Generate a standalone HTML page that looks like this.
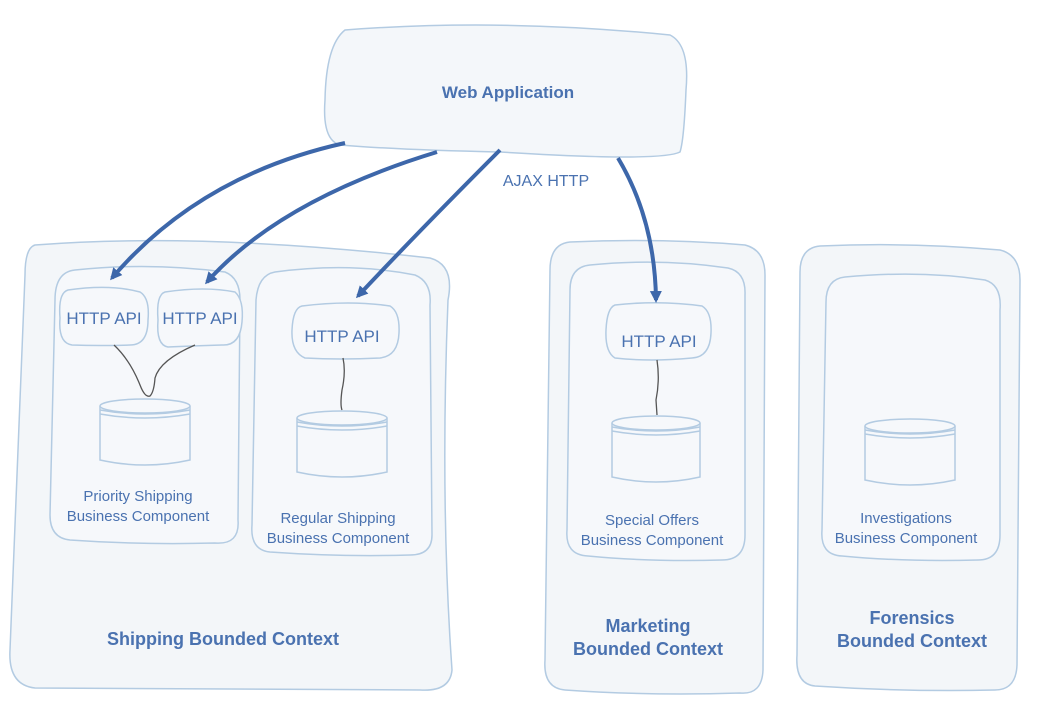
<!DOCTYPE html>
<html><head><meta charset="utf-8"><style>
body{margin:0;background:#fff;}
svg{display:block;font-family:"Liberation Sans",sans-serif;}
text{fill:#4a72b0;}
</style></head><body>
<svg width="1037" height="710" viewBox="0 0 1037 710">
<defs>
<marker id="ah" markerWidth="14" markerHeight="14" refX="9" refY="7" orient="auto" markerUnits="userSpaceOnUse">
<path d="M0,1 L12,7 L0,13 Z" fill="#3d67aa"/></marker>
</defs>
<g stroke="#b3cbe2" stroke-width="1.5">
<path d="M35,245 Q200,232 430,258 Q455,265 448,300 Q440,500 452,670 Q450,692 420,690 Q200,688 35,688 Q8,685 10,650 Q18,450 25,275 Q25,248 35,245 Z" fill="#f3f6f9"/>
<path d="M75,270 Q150,262 225,272 Q240,278 240,300 L238,520 Q240,545 215,543 Q140,545 70,540 Q50,538 50,515 L55,300 Q55,272 75,270 Z" fill="#f6f8fb"/>
<path d="M275,272 Q350,262 415,275 Q432,282 430,305 L432,535 Q432,555 410,555 Q340,557 270,552 Q250,550 252,525 L256,300 Q258,275 275,272 Z" fill="#f6f8fb"/>
<path d="M570,242 Q660,238 745,245 Q765,250 765,275 L763,670 Q762,695 740,693 Q650,696 565,690 Q543,688 545,660 L550,270 Q550,244 570,242 Z" fill="#f3f6f9"/>
<path d="M590,265 Q660,258 728,268 Q746,272 745,295 L745,535 Q745,560 722,560 Q650,562 588,556 Q565,555 567,530 L570,290 Q570,267 590,265 Z" fill="#f6f8fb"/>
<path d="M820,246 Q910,242 1000,250 Q1020,255 1020,280 L1017,665 Q1016,690 995,690 Q905,692 815,686 Q795,684 797,655 L800,272 Q800,248 820,246 Z" fill="#f3f6f9"/>
<path d="M845,277 Q920,270 985,280 Q1002,285 1000,310 L1000,535 Q1000,560 978,560 Q905,562 842,556 Q820,555 822,530 L826,302 Q826,279 845,277 Z" fill="#f6f8fb"/>
<path d="M345,30 Q500,18 670,35 Q690,45 686,90 Q684,140 680,152 Q660,162 500,152 Q400,150 340,145 Q322,140 325,100 Q326,45 345,30 Z" fill="#f4f7fa"/>
<path d="M68,290 Q110,284 140,292 Q150,298 148,320 Q148,345 130,345 Q100,346 72,345 Q58,343 60,318 Q58,293 68,290 Z" fill="#f6f8fb"/>
<path d="M165,292 Q205,286 235,292 Q244,300 242,322 Q240,346 222,345 Q190,346 168,347 Q156,345 158,320 Q156,295 165,292 Z" fill="#f6f8fb"/>
<path d="M302,306 Q350,300 390,306 Q400,312 399,333 Q398,356 380,358 Q340,360 305,358 Q291,352 292,330 Q293,308 302,306 Z" fill="#f6f8fb"/>
<path d="M615,305 Q660,300 702,306 Q712,312 711,333 Q710,357 692,358 Q650,362 615,358 Q605,352 606,330 Q607,308 615,305 Z" fill="#f6f8fb"/>
</g>
<g stroke="#555" stroke-width="1.3" fill="none">
<path d="M114,345 Q130,360 140,385 Q145,398 150,396 Q154,392 155,378 Q160,360 195,345"/>
<path d="M343,358 Q346,372 342,390 Q340,405 342,410"/>
<path d="M657,360 Q660,380 656,400 L657,415"/>
</g>
<g stroke="#b3cbe2" stroke-width="1.5" fill="#f6f8fb">
<g transform="translate(100,398)"><path d="M0,8 L0,62 Q45,72 90,62 L90,8"/><ellipse cx="45" cy="8" rx="45" ry="7"/><path d="M0,12 Q45,20 90,12 M0,16 Q45,24 90,16" fill="none"/></g>
<g transform="translate(297,410)"><path d="M0,8 L0,62 Q45,72 90,62 L90,8"/><ellipse cx="45" cy="8" rx="45" ry="7"/><path d="M0,12 Q45,20 90,12 M0,16 Q45,24 90,16" fill="none"/></g>
<g transform="translate(612,415)"><path d="M0,8 L0,62 Q44,72 88,62 L88,8"/><ellipse cx="44" cy="8" rx="44" ry="7"/><path d="M0,12 Q44,20 88,12 M0,16 Q44,24 88,16" fill="none"/></g>
<g transform="translate(865,418)"><path d="M0,8 L0,62 Q45,72 90,62 L90,8"/><ellipse cx="45" cy="8" rx="45" ry="7"/><path d="M0,12 Q45,20 90,12 M0,16 Q45,24 90,16" fill="none"/></g>
</g>
<g stroke="#3d67aa" stroke-width="4" fill="none" marker-end="url(#ah)">
<path d="M345,143 Q200,175 112,278"/>
<path d="M437,152 Q280,200 207,282"/>
<path d="M500,150 Q420,230 358,296"/>
<path d="M618,158 Q655,220 656,300"/>
</g>
<g font-size="17" text-anchor="middle">
<text x="508" y="98" font-weight="bold">Web Application</text>
<text x="546" y="186" font-size="16">AJAX HTTP</text>
<text x="104" y="324">HTTP API</text>
<text x="200" y="324">HTTP API</text>
<text x="342" y="342">HTTP API</text>
<text x="659" y="347">HTTP API</text>
</g>
<g font-size="15" text-anchor="middle">
<text x="138" y="501">Priority Shipping</text>
<text x="138" y="521">Business Component</text>
<text x="338" y="523">Regular Shipping</text>
<text x="338" y="543">Business Component</text>
<text x="652" y="525">Special Offers</text>
<text x="652" y="545">Business Component</text>
<text x="906" y="523">Investigations</text>
<text x="906" y="543">Business Component</text>
</g>
<g font-size="18" font-weight="bold" text-anchor="middle">
<text x="223" y="645">Shipping Bounded Context</text>
<text x="648" y="632">Marketing</text>
<text x="648" y="655">Bounded Context</text>
<text x="912" y="624">Forensics</text>
<text x="912" y="647">Bounded Context</text>
</g>
</svg>
</body></html>
